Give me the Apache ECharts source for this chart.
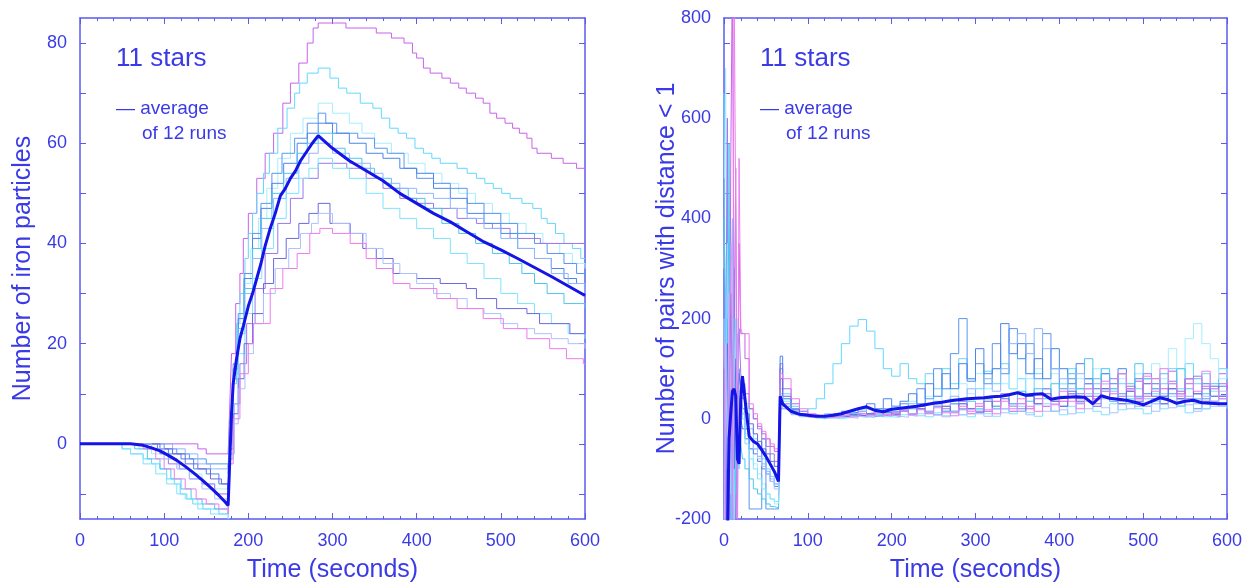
<!DOCTYPE html>
<html>
<head>
<meta charset="utf-8">
<script src="https://cdn.jsdelivr.net/npm/echarts@6/dist/echarts.min.js"></script>
<style>html,body{margin:0;padding:0;background:#fff}#c{width:1251px;height:588px}</style>
</head>
<body>
<div id="c"></div>
<script>
// ---------- LEFT PANEL: number of iron particles (each run: [time, count]) ----------
const leftRun1 = [[0,0],[130,0],[140,-1],[150,-2],[176,-2],[178,8],[180,18],[185,28],[190,34],[194,41],[200,46],[210,53],[220,58],[230,62],[241,68],[250,72],[260,76],[270,80],[277,83],[283,84],[316,83],[352,82],[370,81],[385,80],[395,78],[400,77],[408,75],[416,74],[430,73],[440,72],[450,71],[459,70],[470,69],[479,68],[487,66],[495,65],[505,64],[514,63],[522,62],[531,61],[537,59],[543,58],[560,57],[574,56],[590,55],[600,55]];
const leftRun2 = [[0,0],[50,-1],[60,-2],[75,-3],[85,-4],[95,-5],[103,-7],[112,-8],[119,-10],[127,-11],[134,-12],[146,-13],[165,-14],[176,-14],[178,0],[181,12],[186,24],[190,30],[196,37],[200,42],[205,46],[210,50],[218,54],[225,58],[235,63],[246,67],[255,70],[261,72],[270,74],[283,75],[297,73],[307,71],[317,70],[333,68],[348,67],[358,65],[368,63],[378,62],[388,61],[398,59],[408,58],[418,57],[428,56],[448,55],[460,54],[471,53],[481,52],[491,51],[501,50],[511,49],[525,48],[538,47],[548,45],[555,44],[565,42],[575,40],[585,39],[595,37],[600,37]];
const leftRun3 = [[0,0],[60,0],[70,-1],[85,-2],[100,-3],[115,-5],[130,-6],[145,-8],[160,-9],[176,-10],[178,2],[182,14],[188,24],[195,32],[203,39],[212,45],[222,51],[235,57],[250,62],[265,65],[283,68],[300,66],[320,64],[335,62],[350,60],[370,58],[390,56],[410,54],[430,52],[450,50],[470,48],[490,46],[510,44],[530,42],[550,40],[570,38],[585,36],[600,35]];
const leftRun4 = [[0,0],[90,0],[100,-1],[115,-2],[130,-3],[150,-4],[176,-5],[178,5],[182,16],[188,26],[195,34],[205,42],[215,48],[228,54],[240,58],[255,61],[270,64],[283,66],[292,64],[305,62],[330,61],[350,59],[365,58],[385,55],[400,53],[420,52],[440,51],[460,48],[480,46],[500,44],[520,42],[540,40],[555,38],[575,36],[590,34],[600,33]];
const leftRun5 = [[0,0],[70,0],[80,-1],[95,-2],[105,-4],[118,-5],[130,-7],[145,-8],[160,-10],[176,-11],[178,-2],[183,8],[190,16],[198,24],[208,31],[220,38],[235,44],[250,49],[265,53],[283,56],[317,55],[340,53],[360,51],[380,49],[400,48],[420,47],[448,45],[471,44],[490,43],[511,41],[547,40],[600,40]];
const leftRun6 = [[0,0],[80,0],[92,-1],[105,-2],[120,-3],[135,-5],[150,-6],[165,-8],[176,-9],[178,3],[182,15],[188,25],[195,33],[205,41],[215,47],[228,52],[242,56],[258,60],[270,62],[283,64],[300,62],[320,60],[340,58],[360,57],[380,55],[400,54],[420,51],[440,49],[460,46],[480,44],[500,42],[520,39],[540,37],[560,35],[575,33],[590,32],[600,32]];
const leftRun7 = [[0,0],[55,0],[65,-1],[80,-3],[95,-5],[108,-7],[120,-9],[132,-11],[145,-12],[160,-13],[176,-13],[178,1],[182,13],[188,23],[195,31],[205,39],[215,45],[228,50],[242,54],[258,58],[270,60],[283,62],[300,59],[315,57],[335,55],[350,53],[370,51],[390,49],[410,47],[430,44],[450,42],[470,40],[490,38],[510,36],[525,34],[540,32],[555,30],[575,28],[600,27]];
const leftRun8 = [[0,0],[100,0],[110,-1],[125,-2],[140,-4],[155,-5],[176,-6],[178,4],[182,14],[188,22],[196,30],[205,37],[216,43],[230,49],[245,53],[260,56],[272,58],[283,60],[300,58],[320,56],[345,54],[360,52],[380,51],[400,50],[420,49],[440,47],[460,45],[480,43],[500,41],[520,39],[540,37],[560,34],[580,32],[600,30]];
const leftRun9 = [[0,0],[45,0],[50,-1],[60,-2],[75,-4],[90,-6],[103,-8],[115,-10],[125,-11],[140,-13],[155,-14],[176,-15],[178,-3],[182,8],[188,18],[196,26],[205,33],[216,39],[230,45],[245,50],[260,53],[272,55],[283,57],[300,55],[320,53],[340,50],[360,47],[380,45],[400,43],[420,41],[440,38],[460,36],[480,33],[500,30],[520,28],[540,26],[560,24],[580,22],[600,21]];
const leftRun10 = [[0,0],[85,0],[95,-1],[110,-2],[125,-4],[140,-5],[155,-7],[168,-8],[176,-9],[178,-1],[182,6],[188,13],[195,20],[205,26],[218,32],[230,37],[245,41],[260,44],[272,46],[283,48],[297,44],[321,42],[336,39],[352,37],[372,34],[400,33],[428,32],[459,31],[471,29],[495,27],[531,26],[546,24],[582,22],[600,22]];
const leftRun11 = [[0,0],[75,0],[85,-1],[100,-3],[115,-5],[130,-7],[145,-9],[160,-11],[176,-12],[178,-3],[182,4],[188,11],[196,18],[206,24],[218,30],[232,35],[248,39],[262,42],[275,44],[283,46],[300,44],[320,42],[340,39],[360,36],[380,34],[400,32],[420,30],[440,29],[460,27],[480,26],[500,24],[520,23],[540,22],[560,21],[580,20],[600,19]];
const leftRun12 = [[0,0],[65,0],[75,-1],[90,-3],[100,-5],[112,-7],[125,-9],[138,-11],[150,-12],[165,-13],[176,-14],[178,-4],[182,5],[190,14],[200,20],[206,24],[226,31],[241,35],[258,38],[273,42],[285,43],[300,42],[321,40],[340,37],[352,35],[372,32],[392,31],[424,29],[448,27],[479,25],[503,23],[531,21],[558,19],[578,17],[598,16],[600,16]];
const leftAvg = [[0,0],[60,0],[75,-0.3],[85,-0.8],[95,-1.4],[105,-2.3],[115,-3.3],[125,-4.5],[135,-5.8],[145,-7.2],[155,-8.7],[165,-10.3],[172,-11.5],[176,-12.3],[178,-3],[180,6],[182,12],[186,17],[190,21],[194,23.5],[200,27.5],[205,30],[210,33],[215,36],[220,39.5],[226,43],[232,46],[238,49.5],[244,51],[250,53],[256,54.5],[262,56.5],[270,58.5],[276,60],[283,61.5],[300,59],[320,56.5],[340,54.5],[360,52.5],[380,50],[400,48],[420,46],[440,44.3],[460,42.3],[480,40.3],[500,38.7],[520,37],[540,35.2],[560,33.4],[580,31.5],[600,29.6]];

// ---------- RIGHT PANEL: number of pairs with distance < 1 ----------
const timeR = [0,2,4,6,8,10,12,14,16,18,20,22,25,30,35,40,45,50,55,60,65,67,70,80,90,100,110,120,130,140,150,160,170,180,190,200,210,220,230,240,250,260,270,280,290,300,310,320,330,340,350,360,370,380,390,400,410,420,430,440,450,460,470,480,490,500,510,520,530,540,550,560,570,580,590,600];
const rightRun1 = [200,-250,300,-300,500,900,150,500,-250,350,170,170,120,20,0,-15,-30,-40,-55,-65,-75,110, 30,15,8,5,3,2,5,8,6,10,12,8,5,10,15,8,20,12,25,15,30,20,10,25,15,35,20,15,30,20,40,25,15,35,50,30,60,45,70,40,90,55,75,45,80,60,95,50,70,40,65,35,90,50];
const rightRun2 = [650,-300,450,-300,250,400,-250,100,60,-100,80,60,30,-20,-40,-60,-80,-100,-115,-130,-140,60, 50,25,15,20,40,70,110,150,185,198,175,140,100,85,110,80,70,90,60,100,70,120,80,60,95,70,110,60,80,50,90,60,40,70,100,60,80,50,90,60,70,40,60,80,50,70,100,60,110,70,90,60,100,70];
const rightRun3 = [300,700,-300,200,-300,250,100,-100,200,50,20,0,-30,-60,-90,-110,-130,-150,-160,-170,-175,40, 40,20,10,5,5,8,10,6,12,15,10,20,15,25,20,35,25,45,30,60,40,70,50,90,60,100,70,60,120,80,100,60,90,70,50,80,60,100,70,50,80,60,90,70,110,80,140,100,160,190,150,120,80,100];
const rightRun4 = [480,-300,-300,350,100,-300,250,50,-50,100,60,20,-20,-180,-180,-180,-40,-180,-180,-180,-180,20, 20,10,5,3,2,5,8,5,10,15,8,12,20,15,30,20,60,40,100,60,130,200,80,110,70,150,90,180,120,150,80,170,100,60,80,50,70,40,60,35,50,30,45,25,40,30,50,25,35,20,40,30,45,35];
const rightRun5 = [-300,100,600,-300,180,-100,300,-300,100,180,90,70,50,20,0,-20,-40,-55,-70,-85,-95,100, 60,30,15,8,5,4,6,10,8,5,10,15,8,12,18,10,25,15,30,20,12,35,20,15,40,25,50,30,20,45,30,60,35,25,50,40,70,30,55,80,45,65,40,90,60,45,75,55,40,85,60,45,70,55];
const rightRun6 = [115,-300,200,-300,-300,160,-200,80,-100,40,0,-20,-40,-60,-70,-85,-100,-110,-125,-135,-150,125, 40,20,10,5,4,6,10,15,12,20,30,20,40,25,35,50,30,70,45,90,60,110,75,140,90,100,190,130,150,90,120,80,140,100,70,110,80,60,90,70,100,60,80,50,70,45,60,40,80,50,70,45,65,50];
const rightRun7 = [400,200,-300,550,-300,50,200,-150,80,30,-50,-80,-100,-120,-140,-150,-160,-170,-175,-178,-180,30, 25,10,5,3,2,4,3,5,8,5,10,6,12,8,15,10,20,12,25,15,30,18,35,20,40,25,45,30,55,35,60,40,70,45,90,60,120,80,100,60,90,70,110,80,60,90,70,100,60,80,50,70,40,60];
const rightRun8 = [-300,250,100,-250,300,-50,120,60,170,60,40,10,-20,-40,-60,-75,-90,-105,-120,-130,-140,50, 30,15,8,5,6,10,8,12,10,15,20,10,15,25,18,30,20,15,35,25,45,30,60,40,80,55,100,150,170,130,180,140,100,80,60,90,50,70,40,55,30,45,25,40,30,50,35,25,45,30,20,35,25,40];
const rightRun9 = [200,-300,350,100,-150,300,-300,180,120,-100,50,0,-50,-80,-100,-120,-140,-150,-160,-165,-170,35, 35,12,5,2,0,2,0,3,1,5,2,8,4,3,8,5,10,4,12,6,15,8,4,18,10,5,20,10,25,12,5,30,15,8,25,12,35,15,8,30,18,40,20,10,35,20,45,25,12,40,20,55,30,20];
const rightRun10 = [100,-300,150,-200,250,50,-100,120,40,90,60,40,10,-10,-30,-45,-60,-70,-85,-95,-110,80, 45,18,8,4,2,3,5,4,8,6,10,5,12,8,15,10,20,12,8,25,15,30,20,12,35,20,40,25,15,45,30,50,35,25,55,35,45,25,60,40,30,55,35,70,45,30,60,40,80,50,35,65,45,30];
const rightRun11 = [-300,150,-100,250,50,-250,100,200,-50,40,20,10,-10,-40,-60,-80,-95,-110,-125,-140,-150,45, 20,8,4,2,3,2,4,2,5,3,6,4,8,5,3,10,6,12,8,4,14,8,18,10,5,20,12,25,15,8,28,15,30,18,10,32,20,38,22,12,35,20,42,25,15,40,22,48,28,15,45,25,55,30];
const rightRun12 = [150,-300,-300,100,350,-300,900,400,-200,520,180,170,170,30,10,-10,-25,-40,-50,-60,-70,90, 80,40,20,10,5,3,5,8,4,10,6,12,8,5,15,8,18,10,22,12,6,25,15,30,18,10,35,20,40,25,15,45,28,55,35,20,60,40,75,50,90,60,40,85,55,100,70,45,80,55,95,60,40,75];
const rightAvg = [-300,-300,-250,-40,10,55,60,45,-80,-90,40,85,40,-35,-45,-50,-62,-75,-90,-105,-125,45, 30,15,9,7,5,5,7,10,15,20,24,17,14,19,21,23,25,28,31,33,36,38,40,41,42,44,45,48,52,47,49,50,39,42,43,44,43,30,46,41,39,37,33,28,35,42,38,31,35,37,32,31,30,30];

// ---------- ticks / labels ----------
const leftYLabels = [0,20,40,60,80];
const leftYTicks = [-10,0,10,20,30,40,50,60,70,80];
const rightYLabels = [-200,0,200,400,600,800];
const rightYTicks = [-150,-50,50,150,250,350,450,550,650,750];

const runColors = ['#c862ea','#62d8ff','#a6eeff','#5a96f0','#9a78ee','#4a86ee','#4fc6ee','#8fb8ff','#7ee4ff','#6a6ae0','#b0c0ff','#ee7cec'];
const avgColor = '#1414e6';
const axisColor = '#5a5af0';
const textColor = '#3a3ae6';
const FONT = '"Liberation Sans", Arial, Helvetica, sans-serif';

const leftRuns = [leftRun1,leftRun2,leftRun3,leftRun4,leftRun5,leftRun6,leftRun7,leftRun8,leftRun9,leftRun10,leftRun11,leftRun12];
const rightRuns = [rightRun1,rightRun2,rightRun3,rightRun4,rightRun5,rightRun6,rightRun7,rightRun8,rightRun9,rightRun10,rightRun11,rightRun12];
const zipR = vals => vals.map((v,i) => [timeR[i], v]);

function xAxisPair(g) {
  const common = {
    type:'value', gridIndex:g, min:0, max:600, interval:100,
    axisLine:{show:true, onZero:false, lineStyle:{color:axisColor, width:1.5}},
    axisTick:{show:true, inside:true, length:6, lineStyle:{color:axisColor, width:1}},
    minorTick:{show:true, splitNumber:5, length:3, lineStyle:{color:axisColor, width:1}},
    splitLine:{show:false}, minorSplitLine:{show:false}
  };
  return [
    Object.assign({}, common, {position:'bottom',
      axisLabel:{show:true, color:textColor, fontSize:18, fontFamily:FONT, margin:13},
      name:'Time (seconds)', nameLocation:'middle', nameGap:39, nameMoveOverlap:false,
      nameTextStyle:{color:textColor, fontSize:25, fontFamily:FONT}}),
    Object.assign({}, common, {position:'top', axisLabel:{show:false}})
  ];
}
function yAxisPair(g, min, max, labels, ticks, name, nameGap) {
  const common = {
    type:'value', gridIndex:g, min:min, max:max,
    axisLine:{show:true, onZero:false, lineStyle:{color:axisColor, width:1.5}},
    axisTick:{show:true, inside:true, length:6, customValues:ticks, lineStyle:{color:axisColor, width:1}},
    splitLine:{show:false}
  };
  return [
    Object.assign({}, common, {position:'left',
      axisLabel:{show:true, customValues:labels, color:textColor, fontSize:18, fontFamily:FONT, margin:13},
      name:name, nameLocation:'middle', nameGap:nameGap, nameMoveOverlap:false,
      nameTextStyle:{color:textColor, fontSize:25, fontFamily:FONT}}),
    Object.assign({}, common, {position:'right', axisLabel:{show:false}})
  ];
}

const series = [];
leftRuns.forEach((r,i) => series.push({type:'line', xAxisIndex:0, yAxisIndex:0, data:r, step:'end', symbol:'none', silent:true, lineStyle:{color:runColors[i], width:1}}));
series.push({type:'line', xAxisIndex:0, yAxisIndex:0, data:leftAvg, symbol:'none', silent:true, lineStyle:{color:avgColor, width:3}});
rightRuns.forEach((r,i) => series.push({type:'line', xAxisIndex:2, yAxisIndex:2, data:zipR(r), step:'end', symbol:'none', silent:true, lineStyle:{color:runColors[i], width:1}}));
series.push({type:'line', xAxisIndex:2, yAxisIndex:2, data:zipR(rightAvg), symbol:'none', silent:true, lineStyle:{color:avgColor, width:3}});

function note(x) {
  return [
    {type:'text', left:x, top:46, style:{text:'11 stars', fill:textColor, fontSize:26, fontFamily:FONT}},
    {type:'text', left:x, top:99, style:{text:'— average', fill:textColor, fontSize:19, fontFamily:FONT}},
    {type:'text', left:x+26, top:124, style:{text:'of 12 runs', fill:textColor, fontSize:19, fontFamily:FONT}}
  ];
}

const chart = echarts.init(document.getElementById('c'), null, {renderer:'canvas'});
chart.setOption({
  animation:false,
  backgroundColor:'#ffffff',
  grid:[
    {left:80, top:18, width:505, height:504},
    {left:724, top:18, width:503, height:504}
  ],
  xAxis:[...xAxisPair(0), ...xAxisPair(1)],
  yAxis:[
    ...yAxisPair(0, -15, 85, leftYLabels, leftYTicks, 'Number of iron particles', 44),
    ...yAxisPair(1, -200, 800, rightYLabels, rightYTicks, 'Number of pairs with distance < 1', 44)
  ],
  series:series,
  graphic:[...note(116), ...note(760)]
});
</script>
</body>
</html>
